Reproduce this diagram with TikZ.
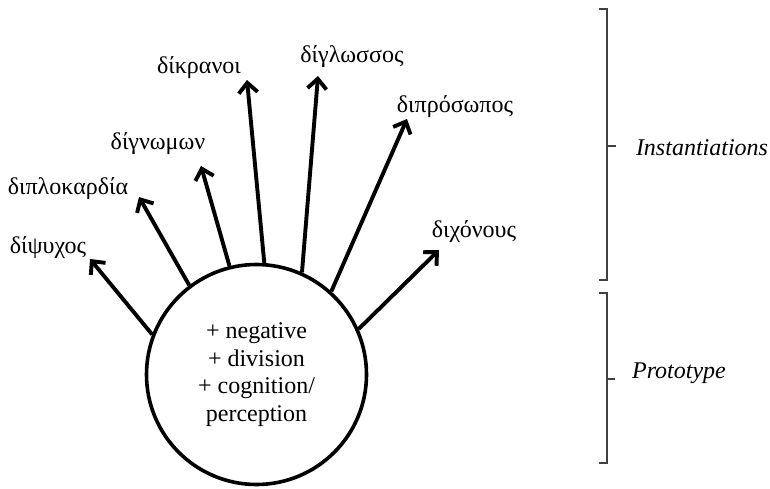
\documentclass[tikz,border=0pt]{standalone}
\usepackage{fontspec}
\setmainfont{Liberation Serif}
\usetikzlibrary{arrows.meta}
\begin{document}
\begin{tikzpicture}[x=1pt,y=-1pt,
  lbl/.style={inner sep=0pt, font=\fontsize{24}{28}\selectfont},
  side/.style={inner sep=0pt, font=\fontsize{24}{28}\selectfont\itshape},
  arr/.style={line width=3.9pt, -{Straight Barb[length=10pt,width=19pt]}},
  brk/.style={line width=1.9pt, black!75}]
\useasboundingbox (0,0) rectangle (770,489);
% central circle
\node[circle, draw, line width=3.6pt, minimum size=220pt, inner sep=0pt,
      align=center, font=\fontsize{24}{27.5}\selectfont] (c) at (256.5,374.5)
  {+ negative\\+ division\\+ cognition/\\perception};
% arrow tips
\coordinate (t1) at (90,259);
\coordinate (t2) at (139,197);
\coordinate (t3) at (201,166);
\coordinate (t4) at (247,80);
\coordinate (t5) at (318,76);
\coordinate (t6) at (407,119);
\coordinate (t7) at (439,250);
% labels
\node[lbl] (l1) at (48,248) {δίψυχος};
\node[lbl] (l2) at (68,189) {διπλοκαρδία};
\node[lbl] (l3) at (158,144) {δίγνωμων};
\node[lbl] (l4) at (199,68) {δίκρανοι};
\node[lbl] (l5) at (352,57) {δίγλωσσος};
\node[lbl] (l6) at (455,107) {διπρόσωπος};
\node[lbl] (l7) at (474,232) {διχόνους};
% arrows
\draw[arr] (c.159.7) -- (t1);
\draw[arr] (c.127.3) -- (t2);
\draw[arr] (c.104.6) -- (t3);
\draw[arr] (c.86.7) -- (t4);
\draw[arr] (c.66.4) -- (t5);
\draw[arr] (c.48.8) -- (t6);
\draw[arr] (c.24.2) -- (t7);
% brackets
\coordinate (b1a) at (607,9);
\coordinate (b1b) at (607,280);
\coordinate (b1m) at (607,146);
\coordinate (b2a) at (607,293);
\coordinate (b2b) at (607,463);
\coordinate (b2m) at (607,379);
\draw[brk] ([xshift=-8pt]b1a) -- (b1a) -- (b1b) -- ([xshift=-8pt]b1b);
\draw[brk] (b1m) -- ([xshift=9pt]b1m);
\draw[brk] ([xshift=-8pt]b2a) -- (b2a) -- (b2b) -- ([xshift=-8pt]b2b);
\draw[brk] (b2m) -- ([xshift=8pt]b2m);
\node[side] (inst) at (702,148) {Instantiations};
\node[side] (proto) at (679,373) {Prototype};
\end{tikzpicture}
\end{document}
